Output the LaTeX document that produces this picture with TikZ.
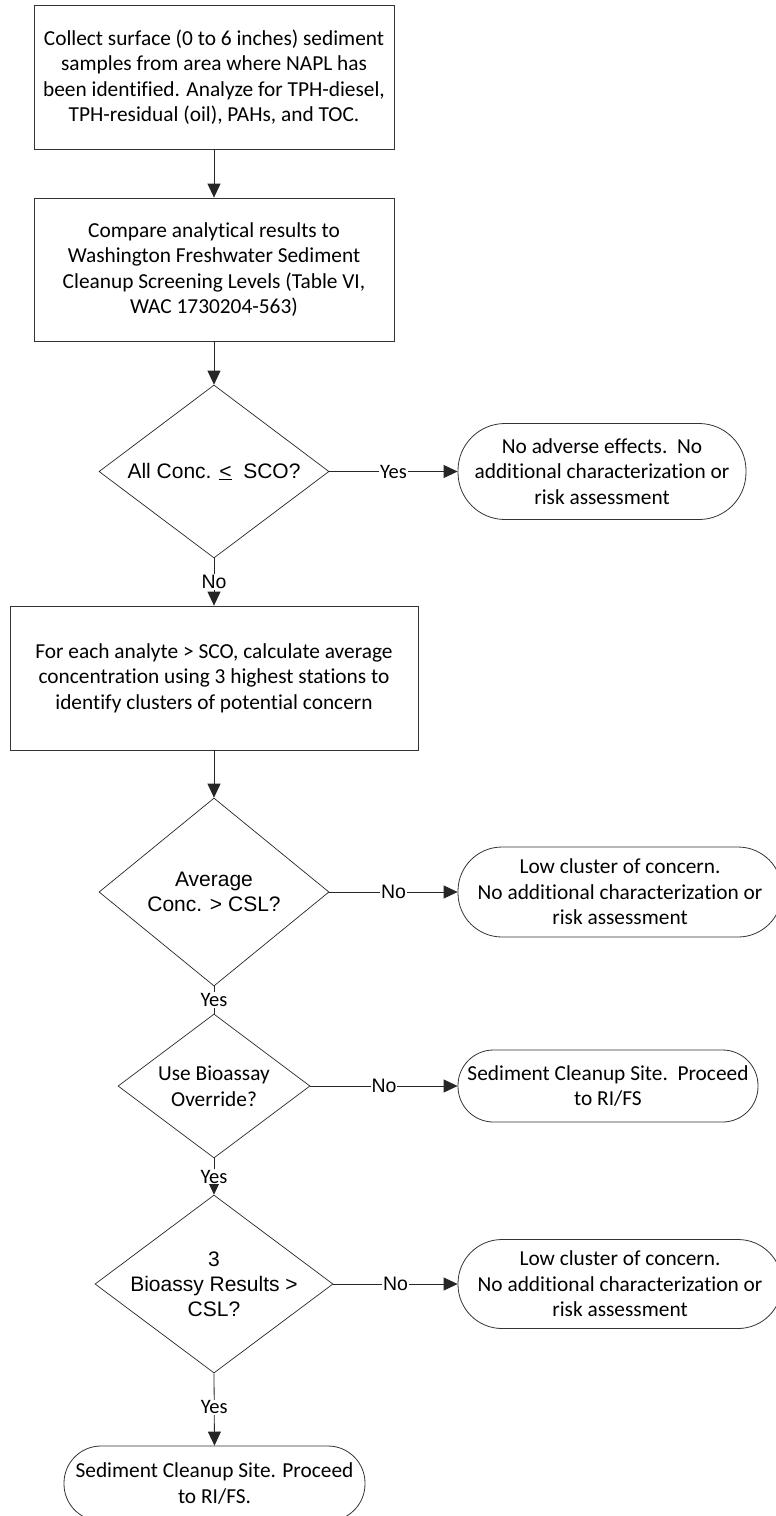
\documentclass[tikz,border=0pt]{standalone}
\usepackage{fontspec}
\setmainfont{Carlito}[Ligatures=NoCommon]
\newfontfamily\arialfam{Liberation Sans}
\usetikzlibrary{arrows.meta,shapes.geometric}
\newcommand\cfnt{\fontsize{21.35}{25.5}\selectfont}
\newcommand\afnt{\arialfam\fontsize{21}{25}\selectfont}
\newcommand\lfntc{\fontsize{20.5}{24}\selectfont}
\newcommand\lfnta{\arialfam\fontsize{19.5}{24}\selectfont}
\begin{document}
\begin{tikzpicture}[x=1pt,y=-1pt,
  procbox/.style={rectangle, draw=black!80, line width=0.8pt, inner sep=0pt, align=center, font=\cfnt},
  termbox/.style={rectangle, draw=black!80, line width=0.8pt, inner sep=0pt, align=center, font=\cfnt},
  dia/.style={diamond, draw=black!85, line width=0.7pt, inner sep=0pt},
  atext/.style={align=center, font=\afnt, inner sep=0pt},
  ctext/.style={align=center, font=\cfnt, inner sep=0pt},
  arr/.style={draw=black!85, line width=0.8pt, -{Triangle[length=14pt,width=13pt]}},
  plain/.style={draw=black!85, line width=0.8pt},
  ylab/.style={fill=white, inner sep=1pt, font=\lfntc},
  nlab/.style={fill=white, inner sep=1pt, font=\lfnta}
]
\useasboundingbox (0,0) rectangle (776,1516);
\clip (0,0) rectangle (776,1516);

% process boxes
\node[procbox, minimum width=360pt, minimum height=144pt] (b1) at (214,77)
  {Collect surface (0 to 6 inches) sediment\\samples from area where NAPL has\\been identified. Analyze for TPH-diesel,\\TPH-residual (oil), PAHs, and TOC.};
\node[procbox, minimum width=360pt, minimum height=143pt] (b2) at (214,269.5)
  {Compare analytical results to\\Washington Freshwater Sediment\\Cleanup Screening Levels (Table VI,\\WAC 1730204-563)};
\node[procbox, minimum width=408pt, minimum height=144pt] (b3) at (214,678)
  {For each analyte > SCO, calculate average\\concentration using 3 highest stations to\\identify clusters of potential concern};

% decisions
\node[dia, minimum width=230pt, minimum height=173pt,
  label={[atext]center:{All Conc. \underline{<}\ \ SCO?}}] (d1) at (214,471.5) {};
\node[dia, minimum width=230pt, minimum height=188pt,
  label={[atext]center:{Average\\Conc. > CSL?}}] (d2) at (214,892) {};
\node[dia, minimum width=192pt, minimum height=144pt,
  label={[ctext]center:{Use Bioassay\\Override?}}] (d3) at (214,1086) {};
\node[dia, minimum width=238pt, minimum height=178pt,
  label={[atext]center:{3\\Bioassy Results >\\CSL?}}] (d4) at (214,1284) {};

% terminators
\node[termbox, rounded corners=47pt, minimum width=288pt, minimum height=96pt] (t1) at (602,471.5)
  {No adverse effects.\ \ No\\additional characterization or\\risk assessment};
\node[termbox, rounded corners=44pt, minimum width=324pt, minimum height=90pt] (t2) at (620,892)
  {Low cluster of concern.\\No additional characterization or\\risk assessment};
\node[termbox, rounded corners=35.5pt, minimum width=300pt, minimum height=72pt] (t3) at (608,1086)
  {Sediment Cleanup Site.\ \ Proceed\\to RI/FS};
\node[termbox, rounded corners=44pt, minimum width=324pt, minimum height=89pt] (t4) at (620,1284)
  {Low cluster of concern.\\No additional characterization or\\risk assessment};
\node[termbox, rounded corners=37pt, minimum width=301pt, minimum height=75pt] (t5) at (214.5,1483.5)
  {Sediment Cleanup Site. Proceed\\to RI/FS.};

% connectors
\draw[arr] (b1.south) -- (b2.north);
\draw[arr] (b2.south) -- (d1.north);
\draw[arr] (d1.east) -- node[ylab] {Yes} (t1.west);
\draw[arr] (d1.south) -- node[nlab] {No} (b3.north);
\draw[arr] (b3.south) -- (d2.north);
\draw[arr] (d2.east) -- node[nlab] {No} (t2.west);
\draw[plain] (d2.south) -- node[ylab] {Yes} (d3.north);
\draw[arr] (d3.east) -- node[nlab] {No} (t3.west);
\draw[arr] (d3.south) -- node[ylab] {Yes} (d4.north);
\draw[arr] (d4.east) -- node[nlab] {No} (t4.west);
\draw[arr] (d4.south) -- node[ylab, pos=0.47] {Yes} (t5.north);
\end{tikzpicture}
\end{document}
